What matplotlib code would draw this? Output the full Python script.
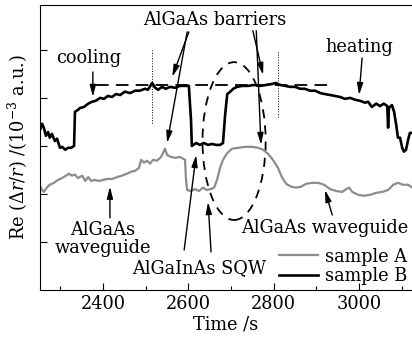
import matplotlib
matplotlib.use("Agg")
import matplotlib.pyplot as plt
from matplotlib.patches import Ellipse
from matplotlib.ticker import MultipleLocator

plt.rcParams['font.family'] = 'DejaVu Serif'
plt.rcParams['mathtext.fontset'] = 'dejavuserif'

# sample B (black)
time_b = [2252, 2257, 2261, 2266, 2271, 2275, 2280, 2287, 2292, 2299, 2304, 2311,
          2318, 2325, 2332, 2334, 2341, 2346, 2355, 2365, 2374, 2383, 2393, 2402,
          2411, 2421, 2430, 2440, 2451, 2463, 2475, 2486, 2498, 2505, 2515, 2522,
          2529, 2538, 2547, 2557, 2569, 2580, 2592, 2601, 2606, 2608, 2618, 2627,
          2636, 2646, 2655, 2665, 2674, 2681, 2686, 2691, 2698, 2705, 2714, 2726,
          2740, 2754, 2768, 2782, 2796, 2805, 2815, 2827, 2838, 2850, 2862, 2873,
          2885, 2897, 2909, 2920, 2932, 2944, 2955, 2967, 2979, 2991, 3002, 3014,
          3021, 3030, 3040, 3049, 3058, 3066, 3068, 3070, 3077, 3082, 3087, 3091,
          3096, 3101, 3105, 3110, 3115, 3119, 3124]
sig_b = [3.33, 3.46, 3.38, 3.21, 3.29, 3.17, 3.25, 3.10, 3.15, 2.96, 2.98, 2.92,
         2.96, 2.96, 3.00, 3.71, 3.75, 3.79, 3.81, 3.88, 3.92, 3.94, 4.00, 3.98,
         4.04, 4.02, 4.08, 4.06, 4.13, 4.10, 4.15, 4.15, 4.19, 4.17, 4.31, 4.21,
         4.17, 4.23, 4.19, 4.23, 4.21, 4.25, 4.25, 4.25, 3.54, 3.00, 3.06, 3.02,
         3.06, 3.02, 3.04, 3.02, 3.02, 3.06, 3.65, 4.08, 4.13, 4.19, 4.23, 4.25,
         4.25, 4.27, 4.25, 4.27, 4.29, 4.31, 4.27, 4.25, 4.23, 4.23, 4.19, 4.19,
         4.15, 4.15, 4.10, 4.08, 4.06, 4.04, 4.02, 3.98, 4.00, 3.96, 3.94, 3.90,
         3.92, 3.81, 3.88, 3.83, 3.88, 3.83, 3.38, 3.79, 3.85, 3.71, 3.44, 3.17,
         3.17, 2.96, 2.88, 2.92, 3.13, 3.27, 3.27]

# sample A (grey)
time_a = [2252, 2257, 2261, 2268, 2275, 2285, 2294, 2304, 2313, 2320, 2327, 2334,
          2341, 2351, 2358, 2365, 2372, 2381, 2390, 2400, 2409, 2421, 2433, 2444,
          2456, 2465, 2475, 2484, 2489, 2496, 2503, 2510, 2517, 2526, 2536, 2545,
          2550, 2559, 2569, 2580, 2592, 2594, 2597, 2606, 2615, 2625, 2634, 2643,
          2653, 2660, 2667, 2674, 2681, 2691, 2702, 2716, 2733, 2749, 2763, 2775,
          2787, 2798, 2810, 2819, 2829, 2841, 2852, 2864, 2876, 2890, 2904, 2918,
          2932, 2946, 2960, 2970, 2977, 2984, 2998, 3012, 3026, 3040, 3054, 3068,
          3080, 3091, 3103, 3115, 3124]
sig_a = [2.17, 2.08, 2.04, 2.13, 2.19, 2.23, 2.29, 2.33, 2.38, 2.42, 2.38, 2.40,
         2.33, 2.38, 2.27, 2.35, 2.27, 2.29, 2.27, 2.29, 2.31, 2.31, 2.35, 2.38,
         2.42, 2.46, 2.48, 2.54, 2.71, 2.65, 2.69, 2.63, 2.71, 2.69, 2.77, 2.94,
         2.81, 2.77, 2.75, 2.77, 2.71, 2.33, 2.08, 2.06, 2.10, 2.06, 2.13, 2.08,
         2.10, 2.13, 2.29, 2.54, 2.71, 2.85, 2.94, 2.96, 2.98, 2.98, 2.96, 2.92,
         2.83, 2.71, 2.54, 2.35, 2.21, 2.15, 2.13, 2.15, 2.21, 2.23, 2.23, 2.19,
         2.10, 2.06, 2.04, 2.10, 2.13, 2.04, 1.98, 1.96, 1.98, 2.02, 2.04, 2.08,
         2.19, 2.23, 2.19, 2.19, 2.13]

x_ticks = [2400, 2600, 2800, 3000]
y_ticks = [1, 2, 3, 4, 5]

fig = plt.figure(figsize=(4.12, 3.43), dpi=100)
ax = fig.add_axes([0.097, 0.155, 0.903, 0.831])

ax.plot(time_a, sig_a, color='#8c8c8c', lw=1.6, label='sample A')
ax.plot(time_b, sig_b, color='black', lw=1.9, label='sample B')

# reference level and switching markers
ax.plot([2383, 2932], [4.27, 4.27], color='black', lw=1.3, ls=(0, (7, 4)))
ax.plot([2515, 2515], [3.48, 5.0], color='black', lw=0.7, ls=':')
ax.plot([2810, 2810], [3.6, 5.0], color='black', lw=0.7, ls=':')
ax.add_patch(Ellipse((2707, 3.10), 148, 3.29, angle=0, fill=False,
                     ls=(0, (5, 4)), lw=1.3, color='black'))

ap = dict(arrowstyle='-|>,head_width=0.18,head_length=0.7', color='black', lw=1.0,
          shrinkA=0, shrinkB=0)
fs = 12.8

ax.text(2367, 4.83, 'cooling', ha='center', va='center', fontsize=fs)
ax.annotate('', xy=(2376, 4.02), xytext=(2376, 4.54), arrowprops=ap)

ax.text(3000, 5.06, 'heating', ha='center', va='center', fontsize=fs)
ax.annotate('', xy=(3000, 4.06), xytext=(3007, 4.83), arrowprops=ap)

ax.text(2662, 5.63, 'AlGaAs barriers', ha='center', va='center', fontsize=fs)
ax.annotate('', xy=(2562, 4.44), xytext=(2601, 5.375), arrowprops=ap)
ax.annotate('', xy=(2550, 3.06), xytext=(2597, 5.375), arrowprops=ap)
ax.annotate('', xy=(2775, 4.48), xytext=(2751, 5.40), arrowprops=ap)
ax.annotate('', xy=(2770, 3.02), xytext=(2759, 5.40), arrowprops=ap)

ax.text(2400, 1.06, 'AlGaAs\nwaveguide', ha='center', va='center', fontsize=fs,
        linespacing=1.0)
ax.annotate('', xy=(2416, 2.15), xytext=(2416, 1.5), arrowprops=ap)

ax.text(2920, 1.29, 'AlGaAs waveguide', ha='center', va='center', fontsize=fs)
ax.annotate('', xy=(2920, 2.08), xytext=(2937, 1.56), arrowprops=ap)

ax.text(2625, 0.46, 'AlGaInAs SQW', ha='center', va='center', fontsize=fs)
ax.annotate('', xy=(2618, 2.81), xytext=(2590, 0.83), arrowprops=ap)
ax.annotate('', xy=(2646, 1.83), xytext=(2653, 0.79), arrowprops=ap)

ax.set_xlim(2252, 3124)
ax.set_ylim(0, 5.94)
ax.set_xticks(x_ticks)
ax.xaxis.set_minor_locator(MultipleLocator(100))
ax.set_yticks(y_ticks)
ax.set_yticklabels([])
ax.tick_params(direction='in', labelsize=fs, length=5, width=0.8)
ax.tick_params(which='minor', direction='in', length=3, width=0.8)
ax.spines['right'].set_visible(False)

ax.set_xlabel('Time /s', fontsize=fs, labelpad=2)
ax.set_ylabel(r'Re ($\Delta r/r$) /(10$^{-3}$ a.u.)', fontsize=fs, labelpad=4)

ax.legend(loc='lower right', frameon=False, fontsize=fs, handlelength=2.2,
          handletextpad=0.4, borderaxespad=0.05, labelspacing=0.1, borderpad=0.2)

fig.savefig('out.png', dpi=100)
